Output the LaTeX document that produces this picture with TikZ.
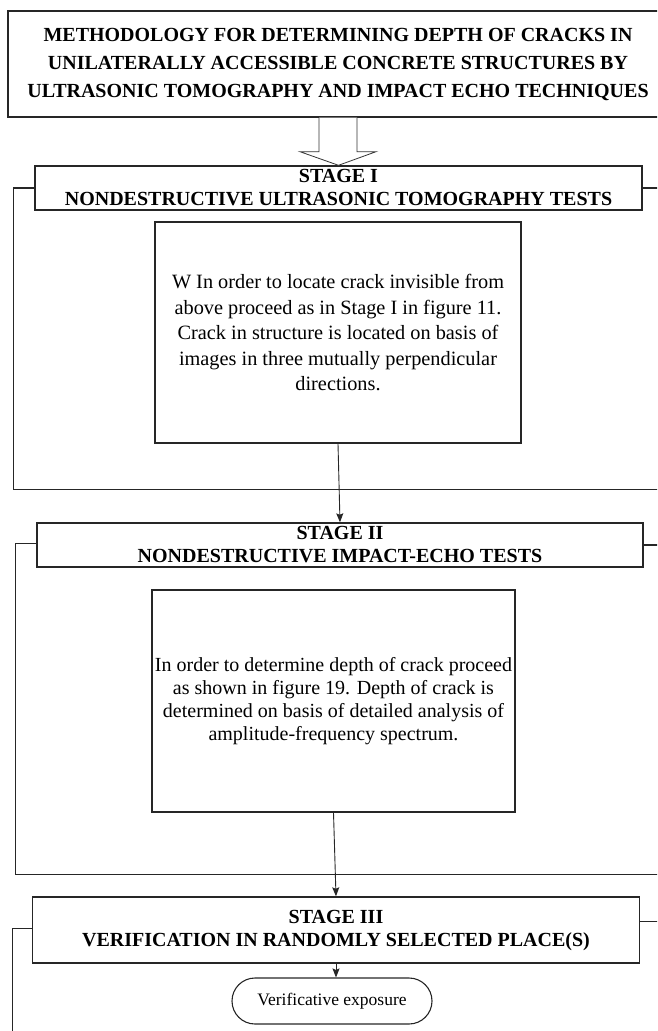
\documentclass[tikz,border=0pt]{standalone}
\usepackage{fontspec}
\setmainfont{Liberation Serif}
\usetikzlibrary{calc,arrows.meta}
\begin{document}
\begin{tikzpicture}[x=1pt,y=-1pt,
  boxline/.style={draw=black!85, line width=1.4pt},
  titlebox/.style={boxline, minimum width=660pt, minimum height=106pt, inner sep=0pt,
    align=center, font=\fontsize{20}{28}\selectfont\bfseries},
  headbox/.style={boxline, minimum width=607pt, minimum height=44pt, inner sep=0pt,
    align=center, font=\fontsize{20}{23}\selectfont\bfseries},
  textbox/.style={boxline, minimum width=366pt, minimum height=221pt, inner sep=0pt,
    align=center},
  pill/.style={boxline, line width=1.1pt, minimum width=200pt, minimum height=46pt,
    rounded corners=23pt, inner sep=0pt, font=\fontsize{17.5}{20}\selectfont},
  frameline/.style={draw=black!85, line width=1.5pt},
  flow/.style={draw=black!85, line width=0.9pt, -{Stealth[length=9pt,width=7pt,inset=1.5pt]}},
  hollow/.style={draw=black!80, line width=0.8pt, fill=white}
]
\useasboundingbox (0,0) rectangle (657,1031);
\begin{scope}
\clip (0,0) rectangle (657,1031);

% title
\node[titlebox] (title) at (338,64)
  {METHODOLOGY FOR DETERMINING DEPTH OF CRACKS IN\\
   UNILATERALLY ACCESSIBLE CONCRETE STRUCTURES BY\\
   ULTRASONIC TOMOGRAPHY AND IMPACT ECHO TECHNIQUES};

% stage I
\node[headbox] (head1) at (338.5,188)
  {STAGE I\\NONDESTRUCTIVE ULTRASONIC TOMOGRAPHY TESTS};
\node[textbox, font=\fontsize{20.3}{25.5}\selectfont] (inner1) at (338,332.5)
  {W In order to locate crack invisible from\\
   above proceed as in Stage I in figure 11.\\
   Crack in structure is located on basis of\\
   images in three mutually perpendicular\\
   directions.};

% stage II
\node[headbox, minimum width=606pt] (head2) at (340,545)
  {STAGE II\\NONDESTRUCTIVE IMPACT-ECHO TESTS};
\node[textbox, minimum width=363pt, minimum height=222pt,
      font=\fontsize{20}{23}\selectfont] (inner2) at (333.5,701)
  {In order to determine depth of crack proceed\\
   as shown in figure 19. Depth of crack is\\
   determined on basis of detailed analysis of\\
   amplitude-frequency spectrum.};

% stage III
\node[headbox, minimum height=66pt] (head3) at (336,930)
  {STAGE III\\VERIFICATION IN RANDOMLY SELECTED PLACE(S)};
\node[pill] (pill) at (332,1001) {Verificative exposure};

% hollow block arrow from the title to stage I
\path[hollow]
  ($(title.south)+(-19,0)$) -- ($(title.south)+(-19,34)$) --
  ($(title.south)+(-38,34)$) -- (head1.north) --
  ($(title.south)+(38,34)$) -- ($(title.south)+(19,34)$) --
  ($(title.south)+(19,0)$);

% brackets enclosing each stage
\draw[frameline] (head1.west) -- (13.5,188) -- (13.5,489.5) -- (660,489.5);
\draw[frameline] (head1.east) -- (660,188);
\draw[frameline] (head2.west |- 0,543.5) -- (15.5,543.5) -- (15.5,874.5) -- (660,874.5);
\draw[frameline] (head2.east) -- (660,545);
\draw[frameline] (head3.west |- 0,928.5) -- (12.5,928.5) -- (12.5,1040);
\draw[frameline] (head3.east |- 0,921.5) -- (660,921.5);

% connectors
\draw[flow] (inner1.south) -- (head2.north);
\draw[flow] (inner2.south) -- (head3.north);
\draw[flow] (head3.south) -- (head3.south |- pill.north);
\end{scope}
\end{tikzpicture}
\end{document}
